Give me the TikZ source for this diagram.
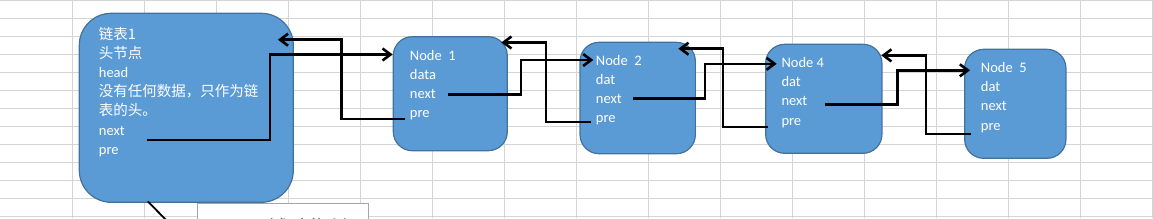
\documentclass[tikz,border=0pt]{standalone}
\usepackage{fontspec}
\setmainfont{Carlito}
\newfontfamily\cjk{Noto Sans CJK SC}
\usepackage{tikz}
\usetikzlibrary{arrows.meta, calc}
\definecolor{cellblue}{HTML}{5B9BD5}
\definecolor{cellrim}{HTML}{41719C}
\definecolor{gridgray}{HTML}{D4D4D4}
\definecolor{notegray}{HTML}{A6A6A6}

\begin{document}
\begin{tikzpicture}[
  x=1pt, y=-1pt,
  font=\fontsize{14.5}{19}\selectfont,
  gridline/.style={gridgray, line width=1pt},
  headbox/.style={draw=cellrim, line width=1.2pt, fill=cellblue, rounded corners=32pt,
                  minimum width=214pt, minimum height=189pt, inner sep=0pt},
  nodebox/.style={draw=cellrim, line width=1.2pt, fill=cellblue, rounded corners=19pt, inner sep=0pt},
  txt/.style={anchor=west, inner sep=0pt, text=white, text height=10pt, text depth=3pt},
  link/.style={-{Straight Barb[length=8pt,width=12pt]}, line width=2.6pt, black},
  elbow/.style={to path={-| ($(\tikztostart)!.5!(\tikztotarget)$) |- (\tikztotarget)}},
  note/.style={draw=notegray, line width=1pt, fill=white, anchor=north west, align=left,
               font=\fontsize{21}{25}\selectfont, inner xsep=11pt, inner ysep=6.7pt,
               text width=149.6pt, text height=26pt, text depth=55pt},
  pointer/.style={black, line width=1.8pt}
]
\useasboundingbox (0,0) rectangle (1153,218);
\clip (0,0) rectangle (1153,218);
% sheet grid
\foreach \gx in {1,...,16} \draw[gridline] (72*\gx+0.7,0) -- (72*\gx+0.7,218);
\foreach \gy in {0,...,12} \draw[gridline] (0,18*\gy+0.3) -- (1153,18*\gy+0.3);

% head node
\node[headbox] (head) at (186.3,107.8) {};
\node[txt] (htitle) at (98.7,36)    {\cjk 链表1};
\node[txt] (hsub)   at (98.7,55)    {\cjk 头节点};
\node[txt] (hname)  at (98.7,74)    {head};
\node[txt] (hnote1) at (98.7,93)    {\cjk 没有任何数据，只作为链};
\node[txt] (hnote2) at (98.7,112)   {\cjk 表的头。};
\node[txt] (hnext)  at (98.7,131.7) {next};
\node[txt] (hpre)   at (98.7,150.7) {pre};

% data nodes
\node[nodebox, minimum width=114pt, minimum height=114pt] (n1) at (450.3,93.7) {};
\node[txt] (n1t)    at (409.7,56.7)  {Node\ \ 1};
\node[txt] (n1data) at (409.7,75.7)  {data};
\node[txt] (n1next) at (409.7,94.7)  {next};
\node[txt] (n1pre)  at (409.7,113.7) {pre};

\node[nodebox, minimum width=115.3pt, minimum height=111.4pt] (n2) at (637.7,98) {};
\node[txt] (n2t)    at (595.7,62.3)  {Node\ \ 2};
\node[txt] (n2data) at (595.7,81.3)  {dat};
\node[txt] (n2next) at (595.7,100.3) {next};
\node[txt] (n2pre)  at (595.7,119.3) {pre};

\node[nodebox, minimum width=116.3pt, minimum height=109pt] (n4) at (823.8,98.8) {};
\node[txt] (n4t)    at (781.3,64.3)  {Node 4};
\node[txt] (n4data) at (781.3,83.3)  {dat};
\node[txt] (n4next) at (781.3,102.3) {next};
\node[txt] (n4pre)  at (781.3,121.7) {pre};

\node[nodebox, minimum width=101.3pt, minimum height=109pt] (n5) at (1015.3,103.8) {};
\node[txt] (n5t)    at (980.7,69.3)  {Node\ \ 5};
\node[txt] (n5data) at (980.7,88.3)  {dat};
\node[txt] (n5next) at (980.7,107.3) {next};
\node[txt] (n5pre)  at (980.7,126.7) {pre};

% next pointers
\draw[link, elbow] ([xshift=22pt,yshift=-8.3pt]hnext.east) to ([yshift=39.2pt]n1.west);
\draw[link, elbow] ([xshift=12.6pt]n1next.east) to ([xshift=-2.4pt,yshift=2.3pt]n2t.west);
\draw[link, elbow] ([xshift=11pt,yshift=2pt]n2next.east) to ([xshift=-4.6pt,yshift=0.5pt]n4t.west);
\draw[link, elbow] ([xshift=17.7pt,yshift=-2.4pt]n4next.east) to ([xshift=-10.7pt,yshift=-1pt]n5t.west);

% pre pointers
\draw[link, elbow] ([xshift=-4.7pt,yshift=-5.3pt]n1pre.west) to ([xshift=-16pt,yshift=-27pt]head.north east);
\draw[link, elbow] ([xshift=-5pt,yshift=-2.7pt]n2pre.west) to ([xshift=-6.6pt,yshift=-6.4pt]n1.north east);
\draw[link, elbow] ([xshift=-13.6pt,yshift=-5.3pt]n4pre.west) to ([xshift=-17.6pt,yshift=-7pt]n2.north east);
\draw[link, elbow] ([xshift=-10pt,yshift=-7.3pt]n5pre.west) to ([xshift=-1.3pt,yshift=-11.7pt]n4.north east);

% callout
\node[note] (temp) at (196.7,203.3) {temp\ \ {\cjk 辅助指针}};
\draw[pointer] ([xshift=-38.6pt,yshift=1.6pt]head.south) -- (temp.west);
\end{tikzpicture}
\end{document}
